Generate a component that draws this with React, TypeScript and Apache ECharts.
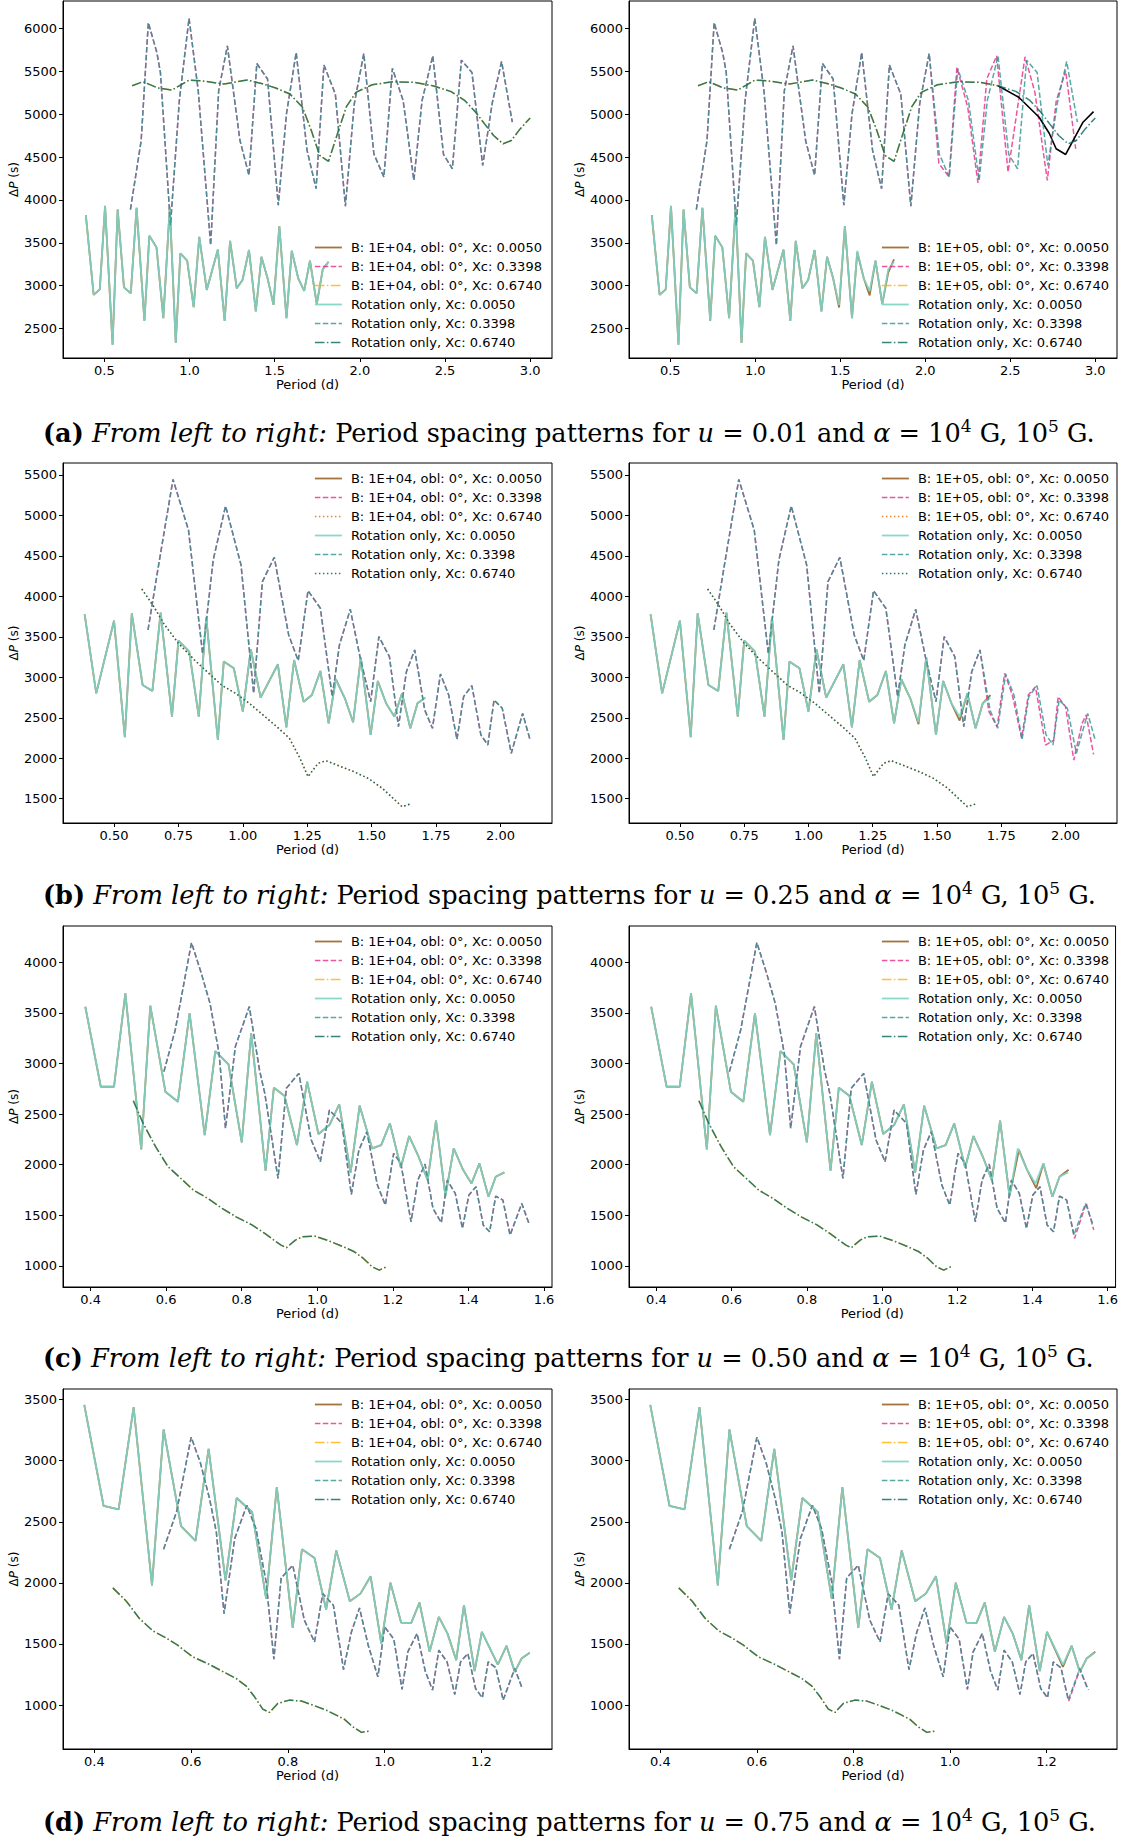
import React, { useEffect, useRef } from "react";
import * as echarts from "echarts";

// ---------------- tick labels ----------------
const xTicksA = [0.5, 1.0, 1.5, 2.0, 2.5, 3.0];
const yTicksA = [2500, 3000, 3500, 4000, 4500, 5000, 5500, 6000];
const xTicksB = [0.5, 0.75, 1.0, 1.25, 1.5, 1.75, 2.0];
const yTicksB = [1500, 2000, 2500, 3000, 3500, 4000, 4500, 5000, 5500];
const xTicksC = [0.4, 0.6, 0.8, 1.0, 1.2, 1.4, 1.6];
const yTicksC = [1000, 1500, 2000, 2500, 3000, 3500, 4000];
const xTicksD = [0.4, 0.6, 0.8, 1.0, 1.2];
const yTicksD = [1000, 1500, 2000, 2500, 3000, 3500];

const xcLabels = ["0.0050", "0.3398", "0.6740"];
const fieldLabels = ["1E+04", "1E+05"];
const uValues = ["0.01", "0.25", "0.50", "0.75"];
const panelLetters = ["a", "b", "c", "d"];

// ---------------- panel (a): u = 0.01 ----------------
const rotA_solid = [[0.391,3822],[0.437,2891],[0.473,2957],[0.504,3930],[0.548,2310],[0.578,3888],[0.615,2980],[0.655,2911],[0.689,3907],[0.735,2589],[0.764,3581],[0.806,3446],[0.846,2620],[0.884,3919],[0.919,2330],[0.946,3376],[0.986,3291],[1.024,2748],[1.057,3570],[1.101,2950],[1.166,3420],[1.206,2589],[1.238,3523],[1.277,2969],[1.311,3066],[1.349,3415],[1.389,2698],[1.422,3337],[1.458,3085],[1.493,2775],[1.527,3694],[1.569,2620],[1.600,3407],[1.638,3085],[1.673,2938],[1.707,3291],[1.747,2783],[1.782,3190],[1.816,3279]];
const rotA_dash = [[0.653,3888],[0.716,4694],[0.758,6070],[0.808,5721],[0.829,5488],[0.888,3705],[0.940,5159],[0.997,6120],[1.051,5275],[1.124,3473],[1.171,5275],[1.222,5798],[1.296,4694],[1.349,4287],[1.395,5593],[1.458,5411],[1.521,3938],[1.569,5004],[1.626,5721],[1.690,4578],[1.743,4132],[1.789,5574],[1.856,5236],[1.915,3926],[1.967,5120],[2.023,5709],[2.082,4539],[2.141,4267],[2.191,5535],[2.254,5159],[2.317,4229],[2.365,5159],[2.428,5682],[2.491,4531],[2.543,4364],[2.596,5632],[2.658,5488],[2.721,4403],[2.778,5140],[2.832,5616],[2.895,4907]];
const rotA_dashdot = [[0.663,5333],[0.726,5380],[0.814,5306],[0.898,5283],[0.997,5399],[1.066,5391],[1.202,5353],[1.338,5399],[1.422,5360],[1.506,5306],[1.590,5236],[1.663,5081],[1.715,4810],[1.764,4519],[1.816,4450],[1.868,4771],[1.921,5089],[1.977,5256],[2.072,5345],[2.197,5380],[2.323,5372],[2.428,5333],[2.533,5267],[2.617,5159],[2.680,5023],[2.732,4888],[2.785,4752],[2.841,4655],[2.889,4694],[2.941,4829],[3.0,4957]];
const bA5_solidTail = [[1.458,3085],[1.493,2745],[1.527,3694],[1.569,2620],[1.600,3390],[1.638,3085],[1.673,2885],[1.707,3291],[1.747,2783],[1.782,3150],[1.816,3306]];
const bA5_dashTail = [[2.08,4427],[2.14,4268],[2.186,5547],[2.25,5081],[2.31,4198],[2.362,5412],[2.42,5682],[2.487,4325],[2.587,5671],[2.645,5256],[2.718,4228],[2.77,5150],[2.826,5508],[2.885,4597]];
const bA5_blackTail = [[2.428,5333],[2.55,5198],[2.67,4965],[2.73,4775],[2.77,4597],[2.826,4531],[2.928,4907],[2.99,5031]];

// ---------------- panel (b): u = 0.25 ----------------
const rotB_solid = [[0.386,3779],[0.431,2802],[0.5,3700],[0.542,2259],[0.569,3791],[0.611,2905],[0.649,2831],[0.681,3799],[0.725,2514],[0.75,3453],[0.792,3317],[0.829,2514],[0.858,3741],[0.903,2226],[0.926,3194],[0.965,3112],[1.0,2576],[1.031,3346],[1.069,2749],[1.136,3161],[1.169,2382],[1.199,3214],[1.236,2699],[1.268,2782],[1.301,3078],[1.333,2432],[1.361,2976],[1.396,2741],[1.428,2444],[1.458,3247],[1.496,2288],[1.524,2955],[1.556,2679],[1.588,2514],[1.618,2802],[1.650,2370],[1.678,2679],[1.708,2749]];
const rotB_dash = [[0.632,3585],[0.671,4347],[0.729,5446],[0.789,4820],[0.844,3288],[0.885,4450],[0.933,5117],[0.993,4388],[1.042,2802],[1.076,4182],[1.122,4483],[1.178,3523],[1.215,3206],[1.253,4071],[1.301,3853],[1.347,2761],[1.375,3400],[1.417,3840],[1.456,3235],[1.496,2699],[1.528,3502],[1.569,3255],[1.604,2391],[1.635,3070],[1.667,3338],[1.706,2597],[1.736,2370],[1.767,3041],[1.799,2782],[1.831,2234],[1.857,2761],[1.889,2897],[1.924,2288],[1.951,2164],[1.975,2720],[2.007,2617],[2.042,2061],[2.086,2555],[2.115,2226]];
const rotB_dot = [[0.608,4091],[0.653,3881],[0.694,3659],[0.75,3420],[0.8125,3214],[0.861,3070],[0.917,2905],[0.972,2802],[1.028,2671],[1.083,2522],[1.139,2370],[1.181,2246],[1.222,1999],[1.253,1773],[1.292,1937],[1.322,1970],[1.375,1904],[1.431,1834],[1.486,1752],[1.542,1628],[1.583,1505],[1.618,1402],[1.650,1435]];
const bB5_solidTail = [[1.428,2420],[1.458,3247],[1.496,2288],[1.524,2955],[1.556,2679],[1.588,2465],[1.618,2802],[1.650,2370],[1.678,2679],[1.708,2780]];
const bB5_dashTail = [[1.604,2391],[1.635,3070],[1.667,3338],[1.702,2575],[1.734,2389],[1.763,3049],[1.793,2781],[1.829,2246],[1.855,2781],[1.883,2884],[1.922,2163],[1.954,2225],[1.971,2760],[2.0,2636],[2.032,1977],[2.064,2431],[2.08,2534],[2.109,2048]];

// ---------------- panel (c): u = 0.50 ----------------
const rotC_solid = [[0.386,3561],[0.427,2770],[0.462,2770],[0.492,3693],[0.534,2150],[0.558,3571],[0.598,2721],[0.631,2622],[0.662,3496],[0.702,2292],[0.730,3123],[0.765,2991],[0.800,2220],[0.825,3298],[0.863,1939],[0.885,2760],[0.913,2681],[0.946,2193],[0.973,2820],[1.003,2302],[1.032,2391],[1.058,2595],[1.088,1920],[1.112,2582],[1.145,2160],[1.169,2193],[1.192,2408],[1.221,1972],[1.243,2282],[1.268,2078],[1.292,1847],[1.314,2434],[1.339,1688],[1.361,2160],[1.386,1946],[1.408,1814],[1.429,2012],[1.453,1682],[1.472,1880],[1.495,1923]];
const rotC_dash = [[0.594,2919],[0.624,3331],[0.667,4195],[0.693,3891],[0.716,3594],[0.740,3100],[0.757,2358],[0.783,3166],[0.820,3562],[0.847,2935],[0.861,2704],[0.896,1864],[0.918,2754],[0.951,2902],[0.984,2243],[1.008,2029],[1.032,2539],[1.065,2408],[1.090,1705],[1.110,2144],[1.131,2325],[1.159,1798],[1.180,1600],[1.202,2111],[1.221,2012],[1.248,1435],[1.266,1847],[1.285,2005],[1.306,1567],[1.328,1425],[1.344,1847],[1.365,1715],[1.384,1369],[1.401,1699],[1.420,1781],[1.439,1402],[1.456,1336],[1.472,1689],[1.491,1649],[1.510,1303],[1.541,1616],[1.560,1418]];
const rotC_dashdot = [[0.513,2632],[0.539,2408],[0.572,2177],[0.605,1979],[0.639,1863],[0.672,1748],[0.710,1666],[0.748,1567],[0.785,1484],[0.828,1402],[0.861,1320],[0.885,1254],[0.904,1204],[0.918,1178],[0.942,1254],[0.961,1287],[0.994,1293],[1.032,1244],[1.069,1188],[1.098,1138],[1.122,1072],[1.145,990],[1.164,957],[1.183,990]];
const bC5_solidTail = [[1.364,2146],[1.386,1946],[1.410,1767],[1.429,2012],[1.453,1682],[1.472,1880],[1.496,1950]];
const bC5_dashTail = [[1.491,1649],[1.512,1270],[1.543,1619],[1.563,1355]];

// ---------------- panel (d): u = 0.75 ----------------
const rotD_solid = [[0.379,3456],[0.419,2629],[0.450,2601],[0.481,3437],[0.519,1980],[0.543,3255],[0.579,2465],[0.609,2343],[0.636,3097],[0.671,2021],[0.694,2694],[0.726,2580],[0.755,1871],[0.777,2784],[0.810,1632],[0.829,2275],[0.855,2204],[0.879,1782],[0.900,2266],[0.928,1850],[0.950,1912],[0.971,2054],[0.993,1504],[1.012,2002],[1.034,1675],[1.055,1673],[1.072,1839],[1.093,1436],[1.112,1722],[1.130,1585],[1.148,1368],[1.164,1817],[1.186,1278],[1.201,1599],[1.234,1332],[1.252,1485],[1.269,1272],[1.283,1381],[1.300,1428]];
const rotD_dash = [[0.543,2275],[0.570,2585],[0.600,3192],[0.619,2983],[0.638,2688],[0.652,2416],[0.668,1749],[0.690,2362],[0.715,2634],[0.734,2443],[0.755,2008],[0.771,1376],[0.786,2040],[0.810,2144],[0.834,1694],[0.855,1517],[0.872,1912],[0.894,1817],[0.915,1291],[0.931,1594],[0.948,1795],[0.966,1490],[0.986,1231],[1.0,1640],[1.019,1539],[1.036,1128],[1.048,1436],[1.067,1586],[1.084,1278],[1.099,1123],[1.112,1449],[1.129,1354],[1.145,1087],[1.157,1354],[1.172,1422],[1.188,1136],[1.202,1060],[1.214,1354],[1.230,1305],[1.245,1041],[1.269,1300],[1.285,1131]];
const rotD_dashdot = [[0.438,1959],[0.466,1850],[0.493,1708],[0.521,1607],[0.548,1550],[0.572,1490],[0.603,1395],[0.638,1332],[0.669,1267],[0.693,1218],[0.714,1155],[0.731,1068],[0.748,967],[0.762,940],[0.779,1014],[0.803,1041],[0.828,1033],[0.855,995],[0.879,959],[0.900,918],[0.917,883],[0.934,823],[0.952,777],[0.969,788]];
const bD5_solidTail = [[1.201,1599],[1.234,1313],[1.252,1485],[1.269,1272],[1.283,1381],[1.301,1436]];
const bD5_dashTail = [[1.246,1033],[1.269,1290],[1.287,1123]];

// B = 1E+05 series (right column): identical to rotation-only until the read tails
const before = (arr: number[][], x: number) => arr.filter((p) => p[0] < x);
const bA5_solid = [...before(rotA_solid, 1.45), ...bA5_solidTail];
const bA5_dash = [...before(rotA_dash, 2.05), ...bA5_dashTail];
const bA5_dashdot = before(rotA_dashdot, 2.43);
const bB5_solid = [...before(rotB_solid, 1.40), ...bB5_solidTail];
const bB5_dash = [...before(rotB_dash, 1.60), ...bB5_dashTail];
const bC5_solid = [...before(rotC_solid, 1.36), ...bC5_solidTail];
const bC5_dash = [...before(rotC_dash, 1.48), ...bC5_dashTail];
const bD5_solid = [...before(rotD_solid, 1.20), ...bD5_solidTail];
const bD5_dash = [...before(rotD_dash, 1.24), ...bD5_dashTail];

const PANELS = [
  { xr: [0.257, 3.128], yr: [2155, 6322], xt: xTicksA, yt: yTicksA, xd: 1, third: "dashdot",
    left: { b: [rotA_solid, rotA_dash, rotA_dashdot], r: [rotA_solid, rotA_dash, rotA_dashdot] },
    right: { b: [bA5_solid, bA5_dash, bA5_dashdot], r: [rotA_solid, rotA_dash, rotA_dashdot], extra: bA5_blackTail } },
  { xr: [0.302, 2.2], yr: [1200, 5648], xt: xTicksB, yt: yTicksB, xd: 2, third: "dot",
    left: { b: [rotB_solid, rotB_dash, rotB_dot], r: [rotB_solid, rotB_dash, rotB_dot] },
    right: { b: [bB5_solid, bB5_dash, rotB_dot], r: [rotB_solid, rotB_dash, rotB_dot] } },
  { xr: [0.327, 1.621], yr: [790, 4359], xt: xTicksC, yt: yTicksC, xd: 1, third: "dashdot",
    left: { b: [rotC_solid, rotC_dash, rotC_dashdot], r: [rotC_solid, rotC_dash, rotC_dashdot] },
    right: { b: [bC5_solid, bC5_dash, rotC_dashdot], r: [rotC_solid, rotC_dash, rotC_dashdot] } },
  { xr: [0.335, 1.346], yr: [641, 3586], xt: xTicksD, yt: yTicksD, xd: 1, third: "dashdot",
    left: { b: [rotD_solid, rotD_dash, rotD_dashdot], r: [rotD_solid, rotD_dash, rotD_dashdot] },
    right: { b: [bD5_solid, bD5_dash, rotD_dashdot], r: [rotD_solid, rotD_dash, rotD_dashdot] } },
];

// ---------------- layout & styles ----------------
const COL_LEFT = [63, 629];
const COL_W = [489, 488];
const ROW_TOP = [1, 463, 926, 1389];
const ROW_H = [357, 360, 361, 360];
const LEG_LEFT = [309, 876];
const LEG_TOP = [236, 467, 930, 1393];
const CAP_Y = [433, 895, 1358, 1822];
const CAP_X = 43;

const DASH = [5.5, 2.4];
const DASHDOT = [9.6, 2.4, 1.5, 2.4];
const DOT = [1.5, 2.5];
const STY: Record<string, any> = {
  bSolid: { color: "#8c510a", width: 1.8, type: "solid", opacity: 0.8 },
  bDash: { color: "#e7298a", width: 1.5, type: DASH, opacity: 0.8 },
  bDashDot: { color: "#ffb000", width: 1.5, type: DASHDOT, opacity: 0.8 },
  bDot: { color: "#d9730d", width: 1.5, type: DOT, opacity: 0.85 },
  rSolid: { color: "#7dd4c6", width: 1.8, type: "solid", opacity: 0.9 },
  rDash: { color: "#2a9490", width: 1.5, type: DASH, opacity: 0.8 },
  rDashDot: { color: "#01665e", width: 1.5, type: DASHDOT, opacity: 0.8 },
  rDot: { color: "#01665e", width: 1.5, type: DOT, opacity: 0.85 },
  black: { color: "#000000", width: 1.6, type: "solid", opacity: 1 },
};
const SANS = "DejaVu Sans";
const SERIF = "DejaVu Serif";
const FS = 13;
const CFS = 25.6;

function buildOption() {
  const grid: any[] = [];
  const xAxis: any[] = [];
  const yAxis: any[] = [];
  const legend: any[] = [];
  const series: any[] = [];
  const graphic: any[] = [];

  PANELS.forEach((p, row) => {
    [0, 1].forEach((col) => {
      const gi = row * 2 + col;
      grid.push({
        left: COL_LEFT[col], top: ROW_TOP[row], width: COL_W[col], height: ROW_H[row],
        show: true, borderColor: "#000", borderWidth: 1, backgroundColor: "transparent", containLabel: false,
      });
      xAxis.push({
        type: "value", gridIndex: gi, min: p.xr[0], max: p.xr[1],
        name: "Period (d)", nameLocation: "middle", nameGap: 20,
        nameTextStyle: { fontFamily: SANS, fontSize: FS, color: "#000" },
        axisLine: { show: true, onZero: false, lineStyle: { color: "#000", width: 1 } },
        axisTick: { show: true, length: 4, customValues: p.xt, lineStyle: { color: "#000" } },
        axisLabel: { customValues: p.xt, margin: 6, fontFamily: SANS, fontSize: FS, color: "#000",
          formatter: (v: number) => v.toFixed(p.xd) },
        splitLine: { show: false },
      });
      yAxis.push({
        type: "value", gridIndex: gi, min: p.yr[0], max: p.yr[1],
        name: "{a|Δ}{i|P}{a| (s)}", nameLocation: "middle", nameGap: 42,
        nameTextStyle: { fontFamily: SANS, fontSize: 12, color: "#000",
          rich: { a: { fontFamily: SANS, fontSize: 12, color: "#000" },
                  i: { fontFamily: SANS, fontSize: 12, fontStyle: "italic", color: "#000" } } },
        axisLine: { show: true, onZero: false, lineStyle: { color: "#000", width: 1 } },
        axisTick: { show: true, length: 4, customValues: p.yt, lineStyle: { color: "#000" } },
        axisLabel: { customValues: p.yt, margin: 6, fontFamily: SANS, fontSize: FS, color: "#000",
          formatter: (v: number) => String(Math.round(v)) },
        splitLine: { show: false },
      });

      const side: any = col === 0 ? p.left : p.right;
      const field = fieldLabels[col];
      const bNames = xcLabels.map((x) => `B: ${field}, obl: 0°, Xc: ${x}`);
      const rNames = xcLabels.map((x) => `Rotation only, Xc: ${x}`);
      const bStyles = [STY.bSolid, STY.bDash, p.third === "dot" ? STY.bDot : STY.bDashDot];
      const rStyles = [STY.rSolid, STY.rDash, p.third === "dot" ? STY.rDot : STY.rDashDot];

      const mk = (name: string | undefined, data: number[][], st: any) => ({
        type: "line", name, xAxisIndex: gi, yAxisIndex: gi, data,
        symbol: "none", showSymbol: false, silent: true, clip: true, animation: false,
        lineStyle: { ...st }, itemStyle: { color: st.color },
      });
      side.b.forEach((d: number[][], i: number) => series.push(mk(bNames[i], d, bStyles[i])));
      if (side.extra) series.push(mk(undefined, side.extra, STY.black));
      side.r.forEach((d: number[][], i: number) => series.push(mk(rNames[i], d, rStyles[i])));

      const legItems = [
        ...bNames.map((n, i) => ({ name: n, lineStyle: { ...bStyles[i] } })),
        ...rNames.map((n, i) => ({ name: n, lineStyle: { ...rStyles[i] } })),
      ];
      legend.push({
        orient: "vertical", left: LEG_LEFT[col], top: LEG_TOP[row],
        itemWidth: 27, itemHeight: 14, itemGap: 6, padding: 5, selectedMode: false,
        itemStyle: { opacity: 0 },
        textStyle: { fontFamily: SANS, fontSize: FS, color: "#000", padding: [0, 0, 0, 4] },
        data: legItems,
      });
    });

    const letter = panelLetters[row];
    const u = uValues[row];
    graphic.push({
      type: "text", x: CAP_X, y: CAP_Y[row], silent: true,
      style: {
        text: `{b|(${letter})} {it|From left to right:} {n|Period spacing patterns for} {it|u} {n|= ${u} and} {it|α} {n|= 10}{s|4}{n| G, 10}{s|5}{n| G.}`,
        fontFamily: SERIF, fontSize: CFS, fill: "#000", verticalAlign: "middle",
        rich: {
          b: { fontFamily: SERIF, fontSize: CFS, fontWeight: "bold", lineHeight: 31 },
          it: { fontFamily: SERIF, fontSize: CFS, fontStyle: "italic", lineHeight: 31 },
          n: { fontFamily: SERIF, fontSize: CFS, lineHeight: 31 },
          s: { fontFamily: SERIF, fontSize: 17, lineHeight: 17, verticalAlign: "top" },
        },
      },
    });
  });

  return { animation: false, backgroundColor: "#ffffff", grid, xAxis, yAxis, legend, series, graphic };
}

export default function App() {
  const ref = useRef<HTMLDivElement>(null);
  useEffect(() => {
    if (!ref.current) return;
    const chart = echarts.init(ref.current, undefined, { renderer: "svg" });
    chart.setOption(buildOption() as any);
    return () => chart.dispose();
  }, []);
  return (
    <div
      ref={ref}
      style={{ position: "absolute", left: 0, top: 0, width: 1121, height: 1840, background: "#fff" }}
    />
  );
}
